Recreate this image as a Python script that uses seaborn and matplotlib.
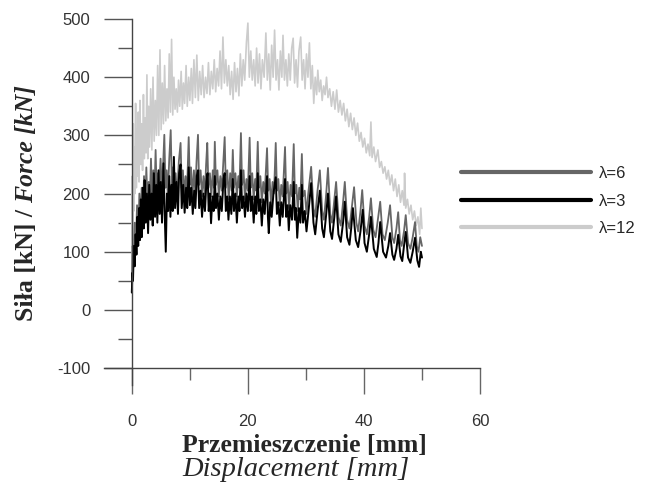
import matplotlib
matplotlib.use('Agg')
import matplotlib.pyplot as plt
import seaborn as sb
from matplotlib.lines import Line2D
from matplotlib.ticker import MultipleLocator

# lambda = 12 (light grey): displacement [mm], force [kN]
disp_12 = [0.00, 0.08, 0.15, 0.25, 0.35, 0.45, 0.55, 0.65, 0.78, 0.90, 1.00, 1.12, 1.25, 1.40, 1.55,
           1.70, 1.85, 2.00, 2.15, 2.30, 2.45, 2.60, 2.75, 2.90, 3.05, 3.25, 3.45, 3.65, 3.85, 4.05,
           4.25, 4.45, 4.65, 4.85, 5.05, 5.25, 5.45, 5.65, 5.85, 6.05, 6.25, 6.45, 6.65, 6.85, 7.05,
           7.25, 7.45, 7.65, 7.85, 8.05, 8.25, 8.50, 8.70, 8.90, 9.10, 9.35, 9.55, 9.80, 10.00, 10.25,
           10.45, 10.70, 10.95, 11.20, 11.45, 11.70, 11.95, 12.20, 12.45, 12.70, 12.95, 13.20, 13.45, 13.70, 13.95,
           14.20, 14.45, 14.70, 14.95, 15.20, 15.45, 15.70, 15.95, 16.20, 16.45, 16.70, 16.95, 17.20, 17.45, 17.70,
           17.95, 18.20, 18.45, 18.70, 18.95, 19.20, 19.45, 19.75, 20.00, 20.25, 20.50, 20.75, 21.00, 21.25, 21.50,
           21.75, 22.00, 22.25, 22.50, 22.80, 23.10, 23.35, 23.60, 23.85, 24.10, 24.35, 24.60, 24.85, 25.10, 25.35,
           25.60, 25.85, 26.05, 26.30, 26.55, 26.80, 27.05, 27.30, 27.55, 27.80, 28.05, 28.30, 28.55, 28.80, 29.10,
           29.35, 29.60, 29.85, 30.10, 30.35, 30.60, 30.85, 31.10, 31.35, 31.60, 31.85, 32.05, 32.30, 32.55, 32.80,
           33.05, 33.30, 33.55, 33.80, 34.10, 34.40, 34.70, 35.00, 35.30, 35.60, 35.90, 36.20, 36.50, 36.80, 37.10,
           37.40, 37.70, 38.00, 38.30, 38.60, 38.90, 39.20, 39.50, 39.80, 40.10, 40.40, 40.70, 41.00, 41.20, 41.40,
           41.70, 42.00, 42.40, 42.70, 43.00, 43.30, 43.60, 43.90, 44.20, 44.50, 44.80, 45.10, 45.40, 45.70, 46.00,
           46.30, 46.60, 46.90, 47.00, 47.20, 47.50, 47.80, 48.10, 48.40, 48.70, 49.00, 49.30, 49.60, 49.80, 50.00]
force_12 = [40, 230, 120, 320, 170, 280, 200, 355, 210, 310, 230, 340, 220, 360, 250,
            320, 240, 370, 260, 330, 270, 404, 260, 350, 280, 380, 275, 400, 290, 360,
            300, 420, 300, 447, 310, 390, 320, 420, 325, 380, 330, 440, 340, 465, 335,
            400, 345, 380, 340, 395, 350, 410, 345, 390, 355, 420, 350, 400, 360, 415,
            355, 430, 365, 438, 360, 410, 370, 420, 365, 400, 372, 425, 370, 410, 380,
            430, 375, 415, 385, 445, 380, 469, 390, 430, 385, 420, 370, 410, 362, 425,
            375, 415, 368, 440, 385, 430, 395, 460, 493, 400, 445, 395, 430, 385, 450,
            390, 440, 380, 430, 400, 476, 395, 440, 378, 455, 400, 481, 395, 430, 378,
            445, 400, 472, 395, 430, 385, 440, 395, 450, 467, 390, 430, 383, 445, 469,
            395, 430, 380, 440, 400, 459, 380, 420, 355, 400, 370, 412, 375, 395, 360,
            385, 370, 400, 365, 380, 350, 375, 345, 378, 340, 360, 335, 355, 325, 345,
            315, 338, 310, 330, 300, 321, 290, 305, 280, 295, 270, 285, 265, 323, 262,
            280, 255, 275, 245, 255, 235, 246, 225, 240, 215, 232, 205, 225, 195, 215,
            185, 205, 180, 235, 175, 190, 165, 180, 155, 170, 145, 160, 130, 175, 140]

# lambda = 6 (dark grey)
disp_6 = [0.00, 0.15, 0.30, 0.50, 0.70, 0.90, 1.10, 1.30, 1.50, 1.70, 1.90, 2.10, 2.30, 2.50, 2.70,
          2.90, 3.10, 3.30, 3.50, 3.70, 3.90, 4.10, 4.30, 4.50, 4.70, 4.95, 5.20, 5.40, 5.60, 5.80,
          6.00, 6.20, 6.45, 6.70, 6.90, 7.10, 7.30, 7.55, 7.80, 8.10, 8.40, 8.60, 8.80, 9.00, 9.25,
          9.50, 9.80, 10.00, 10.20, 10.45, 10.70, 10.95, 11.15, 11.40, 11.60, 11.85, 12.10, 12.35, 12.60, 12.80,
          13.00, 13.20, 13.45, 13.70, 13.95, 14.15, 14.30, 14.50, 14.75, 15.00, 15.25, 15.50, 15.75, 16.00, 16.20,
          16.45, 16.70, 16.95, 17.20, 17.40, 17.60, 17.85, 18.10, 18.35, 18.55, 18.80, 19.00, 19.25, 19.50, 19.75,
          20.00, 20.30, 20.50, 20.75, 21.00, 21.25, 21.45, 21.70, 21.90, 22.15, 22.40, 22.65, 22.90, 23.30, 23.50,
          23.75, 24.00, 24.25, 24.50, 24.80, 25.00, 25.25, 25.50, 25.75, 26.00, 26.40, 26.60, 26.85, 27.10, 27.35,
          27.60, 27.90, 28.10, 28.35, 28.60, 28.85, 29.05, 29.30, 29.50, 29.80, 30.10, 30.40, 30.90, 31.30, 31.60,
          32.00, 32.40, 32.80, 33.10, 33.50, 33.80, 34.20, 34.50, 34.90, 35.20, 35.60, 36.00, 36.40, 36.70, 37.10,
          37.50, 37.90, 38.30, 38.70, 39.00, 39.40, 39.70, 40.10, 40.50, 40.90, 41.20, 41.60, 42.00, 42.40, 42.80,
          43.20, 43.60, 44.10, 44.50, 44.90, 45.20, 45.60, 45.90, 46.20, 46.50, 46.90, 47.20, 47.60, 48.00, 48.40,
          48.80, 49.10, 49.40, 49.70, 50.00]
force_6 = [30, 110, 80, 150, 110, 180, 130, 200, 150, 210, 160, 230, 170, 245, 180,
           220, 185, 260, 190, 240, 200, 275, 195, 235, 205, 260, 200, 250, 301, 210,
           240, 195, 260, 309, 215, 245, 200, 235, 195, 255, 287, 210, 240, 195, 230,
           200, 297, 215, 245, 195, 240, 200, 255, 301, 215, 240, 195, 230, 200, 250,
           287, 210, 235, 195, 240, 210, 289, 215, 240, 195, 230, 205, 250, 297, 210,
           240, 190, 235, 205, 275, 210, 235, 195, 230, 210, 304, 215, 240, 190, 225,
           205, 296, 210, 235, 190, 225, 205, 289, 210, 230, 185, 220, 200, 278, 205,
           225, 180, 220, 200, 287, 205, 225, 180, 215, 195, 280, 200, 220, 175, 215,
           195, 285, 200, 215, 170, 210, 190, 268, 195, 205, 165, 200, 246, 175, 160,
           205, 240, 170, 155, 200, 244, 165, 150, 190, 220, 160, 145, 185, 220, 155,
           140, 175, 211, 150, 135, 170, 206, 145, 130, 160, 192, 138, 125, 155, 186,
           130, 120, 150, 180, 125, 115, 140, 168, 120, 110, 135, 163, 115, 105, 125,
           151, 110, 100, 125, 110]

# lambda = 3 (black)
disp_3 = [0.00, 0.10, 0.20, 0.35, 0.50, 0.65, 0.80, 0.95, 1.10, 1.25, 1.40, 1.55, 1.70, 1.90, 2.05,
          2.20, 2.40, 2.60, 2.80, 3.00, 3.20, 3.40, 3.60, 3.80, 4.00, 4.20, 4.40, 4.60, 4.80, 5.00,
          5.20, 5.45, 5.65, 5.85, 6.05, 6.25, 6.45, 6.65, 6.85, 7.05, 7.25, 7.45, 7.70, 7.95, 8.15,
          8.40, 8.60, 8.85, 9.10, 9.35, 9.55, 9.80, 10.00, 10.25, 10.50, 10.75, 10.95, 11.20, 11.40, 11.60,
          11.85, 12.10, 12.35, 12.60, 12.85, 13.05, 13.25, 13.45, 13.65, 13.90, 14.10, 14.30, 14.50, 14.75, 15.00,
          15.25, 15.50, 15.80, 16.00, 16.20, 16.45, 16.65, 16.90, 17.15, 17.40, 17.60, 17.85, 18.10, 18.35, 18.55,
          18.80, 19.00, 19.25, 19.50, 19.75, 20.00, 20.30, 20.50, 20.75, 21.00, 21.25, 21.45, 21.70, 21.90, 22.15,
          22.40, 22.65, 22.90, 23.30, 23.45, 23.60, 23.85, 24.10, 24.40, 24.80, 25.00, 25.25, 25.50, 25.75, 26.00,
          26.40, 26.60, 26.85, 27.05, 27.30, 27.60, 27.90, 28.10, 28.30, 28.50, 28.80, 29.05, 29.30, 29.50, 29.80,
          30.10, 30.50, 30.90, 31.30, 31.60, 32.00, 32.40, 32.80, 33.10, 33.50, 33.80, 34.20, 34.50, 34.90, 35.20,
          35.60, 36.00, 36.40, 36.70, 37.10, 37.50, 37.80, 38.10, 38.60, 39.00, 39.40, 39.80, 40.10, 40.50, 40.90,
          41.20, 41.70, 42.20, 42.50, 42.80, 43.30, 43.80, 44.20, 44.50, 44.90, 45.20, 45.60, 45.90, 46.30, 46.60,
          46.90, 47.20, 47.60, 48.00, 48.40, 48.80, 49.20, 49.50, 49.80, 50.00]
force_3 = [30, 64, 50, 110, 75, 130, 95, 160, 110, 175, 120, 190, 125, 210, 140,
           223, 150, 200, 132, 215, 155, 200, 145, 235, 160, 215, 150, 240, 165, 220,
           150, 252, 170, 100, 200, 170, 230, 160, 215, 170, 263, 175, 220, 165, 235,
           250, 175, 215, 167, 210, 175, 245, 180, 210, 165, 205, 175, 230, 240, 175,
           205, 160, 200, 170, 220, 235, 170, 200, 149, 195, 170, 230, 175, 200, 155,
           195, 170, 225, 235, 170, 195, 155, 195, 165, 225, 170, 200, 150, 195, 170,
           240, 175, 195, 160, 200, 170, 230, 170, 195, 150, 195, 165, 235, 170, 190,
           145, 190, 165, 230, 160, 132, 185, 160, 200, 228, 165, 185, 145, 185, 160,
           225, 160, 180, 137, 180, 155, 220, 155, 175, 124, 175, 150, 215, 150, 170,
           135, 175, 218, 150, 130, 170, 205, 140, 125, 165, 200, 135, 122, 160, 195,
           130, 117, 150, 186, 125, 112, 140, 175, 120, 108, 135, 172, 115, 100, 130,
           160, 105, 91, 115, 151, 100, 90, 110, 132, 95, 86, 105, 129, 92, 84,
           110, 134, 90, 81, 100, 124, 85, 74, 100, 90]

labels = ['\u03bb=6', '\u03bb=3', '\u03bb=12']
colours = {'\u03bb=6': '#666666', '\u03bb=3': '#000000', '\u03bb=12': '#cccccc'}
widths = {'\u03bb=6': 1.3, '\u03bb=3': 1.4, '\u03bb=12': 1.2}

sb.set_style('ticks')
plt.rcParams['font.family'] = ['Liberation Sans', 'DejaVu Sans']
plt.rcParams['axes.unicode_minus'] = False
serif = ['Liberation Serif', 'DejaVu Serif']

fig = plt.figure(figsize=(6.45, 4.9), dpi=100)
ax = fig.add_axes([0.1612, 0.2143, 0.5830, 0.7469])

# light grey underneath, black on top
for d, f, lab in [(disp_12, force_12, '\u03bb=12'), (disp_6, force_6, '\u03bb=6'), (disp_3, force_3, '\u03bb=3')]:
    sb.lineplot(x=d, y=f, color=colours[lab], lw=widths[lab], ax=ax, sort=False, estimator=None)

ax.set_xlim(-4.8, 60)
ax.set_ylim(-129, 500)
ax.spines['left'].set_position(('data', 0))
ax.spines['bottom'].set_position(('data', -100))
ax.spines['top'].set_visible(False)
ax.spines['right'].set_visible(False)
for s in ['left', 'bottom']:
    ax.spines[s].set_color('#444444')
    ax.spines[s].set_linewidth(1.0)

ax.set_xticks([0, 20, 40, 60])
ax.xaxis.set_minor_locator(MultipleLocator(10))
ax.set_yticks(range(-100, 501, 100))
ax.yaxis.set_minor_locator(MultipleLocator(50))
ax.tick_params(axis='y', which='major', length=20, width=1, pad=10, labelsize=12,
               color='#555555', labelcolor='#333333', direction='out')
ax.tick_params(axis='y', which='minor', length=10, width=1, color='#555555', direction='out')
ax.tick_params(axis='x', which='major', length=19, width=1, pad=14, labelsize=12,
               color='#666666', labelcolor='#333333', direction='out')
ax.tick_params(axis='x', which='minor', length=8.5, width=1, color='#666666', direction='out')

# axis titles
fig.text(0.472, 1 - 445 / 490, 'Przemieszczenie [mm]', ha='center', va='center',
         fontweight='bold', family=serif, size=18.5)
fig.text(0.459, 1 - 469 / 490, 'Displacement [mm]', ha='center', va='center',
         fontstyle='italic', family=serif, size=20.5)

t1 = fig.text(27 / 645, 1 - 321 / 490, 'Si\u0142a [kN] /', rotation=90, ha='center', va='bottom',
              fontweight='bold', family=serif, size=18.5)
fig.canvas.draw()
h = t1.get_window_extent().height
fig.text(27 / 645, 1 - (321 - h - 6) / 490, 'Force [kN]', rotation=90, ha='center', va='bottom',
         fontweight='bold', fontstyle='italic', family=serif, size=18.5)

handles = [Line2D([], [], color=colours[lab], lw=3) for lab in labels]
fig.legend(handles, labels, loc='center left', bbox_to_anchor=(461 / 645, 1 - 201 / 490),
           frameon=False, handlelength=7.8, fontsize=12, labelspacing=0.75, handletextpad=0.5,
           borderpad=0, borderaxespad=0)

fig.savefig('out.png', dpi=100)
plt.close()
